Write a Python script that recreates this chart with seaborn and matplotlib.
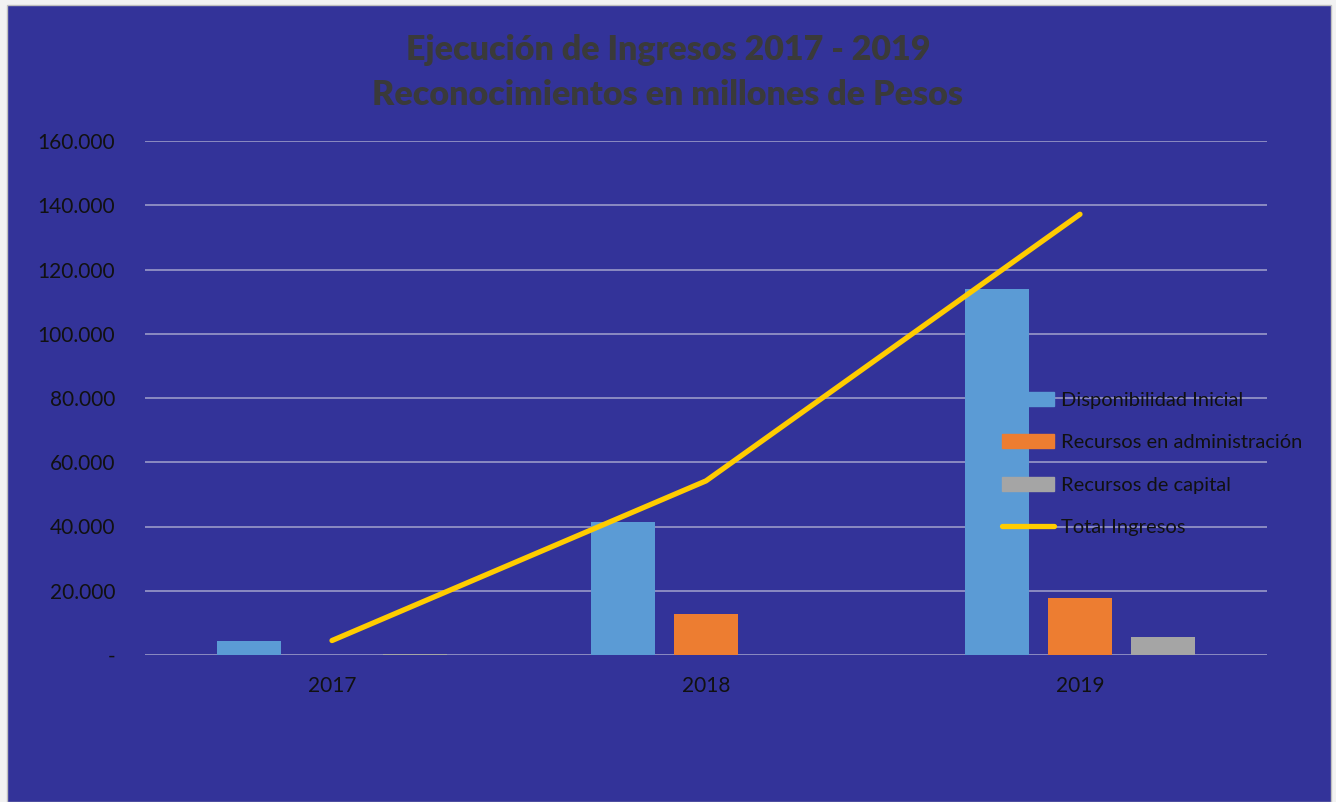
import matplotlib
matplotlib.use('Agg')
import matplotlib.pyplot as plt
from matplotlib.patches import Rectangle
from matplotlib.ticker import FuncFormatter
import numpy as np
import pandas as pd
import seaborn as sns

# Datos (millones de pesos)
anios = ['2017', '2018', '2019']
disponibilidad_inicial = [4300, 41400, 113900]
recursos_administracion = [0, 12800, 17700]
recursos_capital = [200, 0, 5600]
total_ingresos = [4500, 54200, 137200]

series = ['Disponibilidad Inicial', 'Recursos en administración', 'Recursos de capital']
colores = ['#5B9BD5', '#ED7D31', '#A5A5A5']
fondo = '#333399'

df = pd.DataFrame({
    'Año': anios * 3,
    'Serie': [s for s in series for _ in anios],
    'Valor': disponibilidad_inicial + recursos_administracion + recursos_capital,
})

sns.set_theme(style='white')
plt.rcParams['font.family'] = ['Lato', 'DejaVu Sans']

fig = plt.figure(figsize=(13.36, 8.02), dpi=100)
fig.patch.set_facecolor('#F2F2F2')
# panel azul del grafico (por debajo de los ejes)
fig.patches.append(Rectangle((7 / 1336, 0), 1324 / 1336, 797 / 802, transform=fig.transFigure,
                             facecolor=fondo, edgecolor='#BFBFBF', linewidth=1, zorder=-5))

ax = fig.add_axes([145 / 1336, 1 - 655 / 802, 1122 / 1336, 514 / 802])
ax.set_facecolor('none')

sns.barplot(data=df, x='Año', y='Valor', hue='Serie', palette=colores,
            width=0.666, gap=0.22, ax=ax, errorbar=None, legend=False, saturation=1,
            linewidth=0, zorder=2)
sns.lineplot(x=np.arange(len(anios)), y=total_ingresos, color='#FFCC00', linewidth=3.8,
             ax=ax, solid_capstyle='round', zorder=3)

ax.set_xlim(-0.5, 2.5)
ax.set_ylim(0, 160000)
ax.set_yticks(np.arange(0, 160001, 20000))
ax.yaxis.set_major_formatter(FuncFormatter(lambda v, p: '-' if v == 0 else f'{int(v):,}'.replace(',', '.')))
ax.grid(axis='y', color='#9A9AC8', linewidth=1.2, zorder=1)
ax.set_axisbelow(True)
for s in ax.spines.values():
    s.set_visible(False)
ax.tick_params(axis='both', length=0, labelsize=15, labelcolor='#111111')
ax.tick_params(axis='y', pad=21.5)
ax.tick_params(axis='x', pad=15)
ax.set_xlabel('')
ax.set_ylabel('')

fig.text(0.5, 1 - 50 / 802, 'Ejecución de Ingresos 2017 - 2019', ha='center', va='center',
         fontsize=24.5, fontweight='heavy', color='#3A3A3A')
fig.text(0.5, 1 - 95 / 802, 'Reconocimientos en millones de Pesos', ha='center', va='center',
         fontsize=24.5, fontweight='heavy', color='#3A3A3A')

handles = [Rectangle((0, 0), 1, 1, color=c) for c in colores]
handles.append(plt.Line2D([0], [0], color='#FFCC00', linewidth=3.8, solid_capstyle='round'))
leg = fig.legend(handles, series + ['Total Ingresos'], loc='upper left',
                 bbox_to_anchor=(984 / 1336, 1 - 374 / 802), frameon=False, fontsize=14.5,
                 handlelength=2.6, handletextpad=0.3, labelspacing=1.25, labelcolor='#111111')

fig.savefig('out.png', dpi=100, facecolor=fig.get_facecolor())
